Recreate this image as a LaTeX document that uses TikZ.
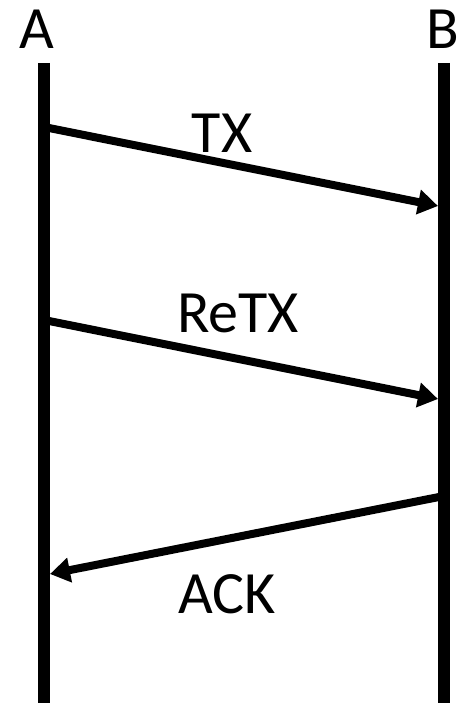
\documentclass[tikz,border=0pt]{standalone}
\usepackage{fontspec}
\setmainfont{Carlito}
\usetikzlibrary{arrows.meta}

\begin{document}
\begin{tikzpicture}[
    x=1pt, y=-1pt,
    ent/.style={font=\fontsize{60}{62}\selectfont, inner sep=0pt},
    lbl/.style={font=\fontsize{60}{62}\selectfont, inner sep=0pt},
    life/.style={line width=12pt},
    msg/.style={-{Triangle[length=20pt,width=24pt]}, line width=8pt}
]
\useasboundingbox (0,0) rectangle (462,703);

% entities
\node[ent] (A) at (37,29) {A};
\node[ent] (B) at (443,29) {B};

% lifelines
\coordinate (Atop) at (44,63);
\coordinate (Abot) at (44,703);
\coordinate (Btop) at (444,63);
\coordinate (Bbot) at (444,703);
\draw[life] (Atop) -- (Abot);
\draw[life] (Btop) -- (Bbot);

% message points
\coordinate (a1) at (44,127);
\coordinate (b1) at (438,206);
\coordinate (a2) at (44,320);
\coordinate (b2) at (438,399);
\coordinate (b3) at (444,496);
\coordinate (a3) at (50,574);

\draw[msg] (a1) -- (b1);
\draw[msg] (a2) -- (b2);
\draw[msg] (b3) -- (a3);

\node[lbl] (tx) at (222,133) {TX};
\node[lbl] (retx) at (238,313) {ReTX};
\node[lbl] (ack) at (227,594) {ACK};
\end{tikzpicture}
\end{document}
